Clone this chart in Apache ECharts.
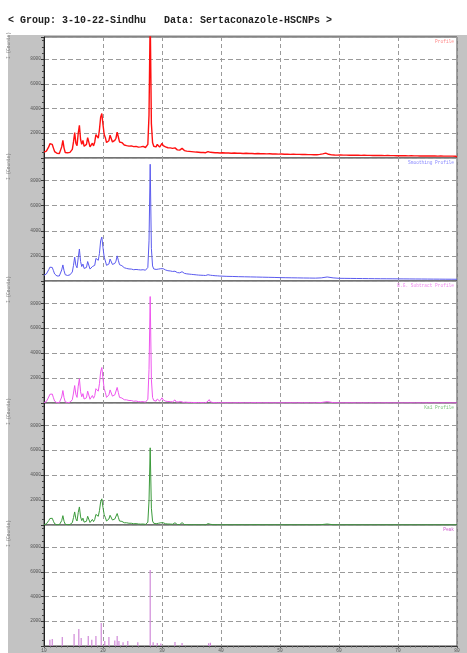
<!DOCTYPE html>
<html>
<head>
<meta charset="utf-8">
<script src="https://cdn.jsdelivr.net/npm/echarts@6/dist/echarts.min.js"></script>
<style>
  html, body { margin: 0; padding: 0; background: #fff; }
  #frame { position: absolute; left: 8px; top: 35px; width: 459px; height: 618px; background: #c3c3c3; }
  #chart { position: absolute; left: 0; top: 0; width: 467px; height: 653px; }
</style>
</head>
<body>
<div id="frame"></div>
<div id="chart"></div>
<script>
// 2-theta axis
const twoThetaMin = 10, twoThetaMax = 80, twoThetaStep = 10;
const twoThetaTicks = ['10', '20', '30', '40', '50', '60', '70', '80'];
const countTicks = ['2000', '4000', '6000', '8000'];
const countMax = 9800;

// Profiles sampled every 0.2 deg from 10.0 to 40.0 deg (151 values)
const rawFine = [
  480,520,560,650,900,1150,1000,1100,800,520,
  430,380,400,360,450,900,1420,800,450,480,
  420,500,460,560,700,1300,2050,1200,1000,2000,
  2650,1500,1100,1420,950,820,1100,1650,1500,900,
  1050,1200,980,1300,1900,2000,1600,2300,3300,3600,
  2700,1900,1650,1250,1150,1400,1850,1750,1300,1250,
  1430,1600,2100,1700,1300,1150,1250,1200,1050,1150,
  1000,1150,960,900,980,870,920,850,940,1050,
  880,820,900,860,940,880,850,960,1100,3500,
  11500,2800,1250,950,1050,900,1100,950,880,1000,
  1180,1000,850,900,800,830,760,820,740,780,
  700,820,700,660,720,640,700,780,620,600,
  650,560,600,540,580,520,560,500,540,480,
  520,470,500,450,490,440,470,430,480,520,
  560,460,420,450,400,430,390,420,380,400,
  370
];
// Raw profile, 40.25 to 80.0 deg every 0.25 deg (160 values)
const rawTail = [
  420,340,400,330,410,350,390,320,
  400,330,380,310,390,320,370,300,
  380,300,360,290,370,300,350,280,
  360,290,340,270,350,280,330,260,
  340,260,320,250,330,260,310,240,
  320,240,300,230,310,240,290,220,
  300,220,290,210,290,220,280,200,
  280,200,270,195,270,200,260,190,
  265,200,290,250,330,300,400,340,
  300,230,250,190,240,180,235,175,
  240,175,230,170,235,165,225,160,
  230,160,220,155,225,150,215,150,
  220,150,210,145,215,140,205,140,
  210,140,200,135,205,130,195,130,
  200,130,190,125,195,120,185,120,
  190,120,180,115,185,115,175,110,
  180,110,170,105,175,105,165,100,
  170,100,165,95,170,95,160,95,
  165,95,155,90,160,90,150,88,
  155,88,150,85,150,85,145,82
];

const smoothFine = [
  460,500,560,680,900,1100,1050,1080,820,560,
  440,400,390,400,470,880,1280,820,500,460,
  440,470,490,560,720,1250,1900,1250,1050,1850,
  2550,1550,1150,1350,1000,850,1080,1550,1450,950,
  1020,1150,1020,1250,1800,1900,1650,2200,3200,3500,
  2650,1900,1600,1250,1150,1350,1750,1700,1320,1250,
  1400,1580,2000,1650,1300,1150,1220,1180,1060,1100,
  1000,1080,960,920,950,890,900,870,920,1000,
  900,850,880,860,900,870,860,920,1080,3200,
  9300,2600,1200,960,1000,920,1050,950,900,980,
  1100,980,870,880,810,820,770,800,750,760,
  710,780,700,670,700,650,690,740,630,610,
  630,570,590,550,570,530,550,510,530,490,
  500,470,490,460,480,450,460,440,470,500,
  530,460,430,440,410,420,395,410,385,395,
  375
];
// 41 to 80 deg every 1 deg
const smoothTail = [
  370,360,345,335,325,315,305,295,285,270,
  262,255,248,240,235,228,250,320,250,215,
  210,205,200,195,190,185,180,178,175,170,
  167,164,160,157,154,150,147,144,141,138
];

const bgSubFine = [
  30,60,120,250,480,700,620,720,420,150,
  50,20,20,30,90,480,1000,430,90,40,
  30,50,60,120,260,800,1400,700,450,1350,
  1950,900,500,750,320,180,420,950,850,300,
  400,600,380,600,1150,1250,950,1550,2500,2850,
  1950,1150,850,450,380,650,1050,1000,550,450,
  650,800,1250,850,450,300,400,420,260,330,
  250,380,200,150,200,120,140,110,160,260,
  110,70,100,80,110,80,70,130,300,2700,
  8550,1900,450,200,250,150,320,200,150,250,
  420,250,120,150,90,120,80,110,70,90,
  60,250,80,50,90,40,120,260,50,40,
  70,30,50,30,50,30,40,20,40,20,
  30,20,30,15,30,15,25,15,60,150,
  270,90,30,40,20,30,15,25,15,20,
  15
];
const bgSubTail = [
  20,15,25,15,20,30,15,20,15,20,
  15,20,15,20,15,15,40,110,30,15,
  15,20,10,15,10,15,10,15,10,10,
  10,15,10,10,15,10,10,15,10,10
];

const ka1Fine = [
  20,40,90,180,350,520,450,540,300,100,
  30,15,15,20,60,350,750,300,60,25,
  20,35,40,90,190,600,1050,500,320,1000,
  1450,650,350,550,230,120,300,700,620,200,
  280,450,270,450,850,920,700,1150,1850,2100,
  1400,820,600,320,270,480,780,740,400,320,
  480,600,920,620,320,200,290,300,180,240,
  180,280,140,100,140,80,100,80,110,190,
  80,50,70,55,80,55,50,90,220,1950,
  6200,1350,320,140,180,100,230,140,100,180,
  300,180,80,100,60,80,55,75,50,60,
  40,180,55,35,60,30,85,190,35,30,
  50,20,35,20,35,20,30,15,30,15,
  20,15,20,10,20,10,18,10,40,110,
  200,60,20,30,15,20,10,18,10,15,
  10
];
const ka1Tail = [
  15,10,18,10,15,22,10,15,10,15,
  10,15,10,15,10,10,30,80,20,10,
  10,15,8,10,8,10,8,10,8,8,
  8,10,8,8,10,8,8,10,8,8
];

// Peak list (2-theta, intensity)
const peakPos = [11.0,11.4,13.1,15.1,15.9,16.3,17.5,18.1,18.8,19.7,20.3,21.0,22.0,22.4,22.7,23.4,24.2,25.9,28.0,28.5,29.2,29.8,32.2,33.4,37.9,38.2];
const peakInt = [510,570,730,970,1380,650,810,500,810,1860,400,730,450,810,400,300,400,300,6150,300,250,200,330,250,220,260];

const panelNames = ['Profile', 'Smoothing Profile', 'B.G. Subtract Profile', 'Ka1 Profile', 'Peak'];
const panelColors = ['#ff1010', '#5a5aee', '#ee55ee', '#3a9a3a', '#d08ad8'];
const labelColors = ['#ff8a8a', '#8a8aff', '#f08af0', '#7ac47a', '#cc55cc'];

const tops = [37, 158, 281, 403, 525];
const heights = [121, 123, 122, 122, 122];

function pairs(values, start, step) {
  return values.map((v, i) => [+(start + i * step).toFixed(2), v]);
}

const profiles = [
  pairs(rawFine, 10, 0.2).concat(pairs(rawTail, 40.25, 0.25)),
  pairs(smoothFine, 10, 0.2).concat(pairs(smoothTail, 41, 1)),
  pairs(bgSubFine, 10, 0.2).concat(pairs(bgSubTail, 41, 1)),
  pairs(ka1Fine, 10, 0.2).concat(pairs(ka1Tail, 41, 1))
];

const font = 'Liberation Mono';
const grids = [], xAxes = [], yAxes = [], series = [], graphics = [];

for (let p = 0; p < 5; p++) {
  const last = p === 4;
  grids.push({
    left: 44, right: 10, top: tops[p], height: heights[p],
    show: true, backgroundColor: '#fff', borderColor: '#444', borderWidth: 1
  });
  xAxes.push({
    type: 'value', gridIndex: p, min: twoThetaMin, max: twoThetaMax, interval: twoThetaStep,
    axisLine: { show: last, onZero: false, lineStyle: { color: '#333' } },
    axisTick: { show: last, length: 2, lineStyle: { color: '#555' } },
    minorTick: { show: last, splitNumber: 10, length: 1.5, lineStyle: { color: '#666' } },
    axisLabel: {
      show: last, fontSize: 4.5, color: '#555', margin: 2, fontFamily: font,
      formatter: v => twoThetaTicks.includes(String(v)) ? String(v) : ''
    },
    splitLine: { show: true, lineStyle: { color: '#9a9a9a', type: [4, 3], width: 1 } }
  });
  yAxes.push({
    type: 'value', gridIndex: p, min: 0, max: countMax, interval: 2000,
    axisLine: { show: true, lineStyle: { color: '#222' } },
    axisTick: { show: true, length: 3, lineStyle: { color: '#333' } },
    minorTick: { show: true, splitNumber: 4, length: 2, lineStyle: { color: '#444' } },
    axisLabel: {
      fontSize: 4.5, color: '#555', margin: 3, fontFamily: font,
      showMaxLabel: false, showMinLabel: false,
      formatter: v => countTicks.includes(String(v)) ? String(v) : ''
    },
    splitLine: { show: true, lineStyle: { color: '#9a9a9a', type: [5, 3], width: 1 } }
  });

  if (p < 4) {
    series.push({
      type: 'line', xAxisIndex: p, yAxisIndex: p, data: profiles[p],
      showSymbol: false, clip: true,
      lineStyle: { color: panelColors[p], width: p === 0 ? 1.4 : 1 },
      z: 3
    });
  } else {
    series.push({
      type: 'bar', xAxisIndex: p, yAxisIndex: p, barWidth: 1.2,
      data: peakPos.map((x, i) => [x, peakInt[i]]),
      itemStyle: { color: panelColors[p] }
    });
  }

  graphics.push({
    type: 'text', right: 13, top: tops[p] + 2, z: 10,
    style: { text: panelNames[p], fill: labelColors[p], font: '4.5px "' + font + '"' }
  });
  graphics.push({
    type: 'text', x: 9, y: tops[p] + 22, rotation: Math.PI / 2, z: 10,
    style: { text: 'I (Counts)', fill: '#7a7a7a', font: '4.5px "' + font + '"', align: 'left', verticalAlign: 'middle' }
  });
}

graphics.push({
  type: 'text', x: 8, y: 20, z: 10,
  style: {
    text: '< Group: 3-10-22-Sindhu   Data: Sertaconazole-HSCNPs >',
    fill: '#222', font: 'bold 10px "' + font + '"', verticalAlign: 'middle'
  }
});

const chart = echarts.init(document.getElementById('chart'), null, { renderer: 'canvas' });
chart.setOption({
  animation: false,
  backgroundColor: 'transparent',
  grid: grids,
  xAxis: xAxes,
  yAxis: yAxes,
  series: series,
  graphic: graphics
});
</script>
</body>
</html>
